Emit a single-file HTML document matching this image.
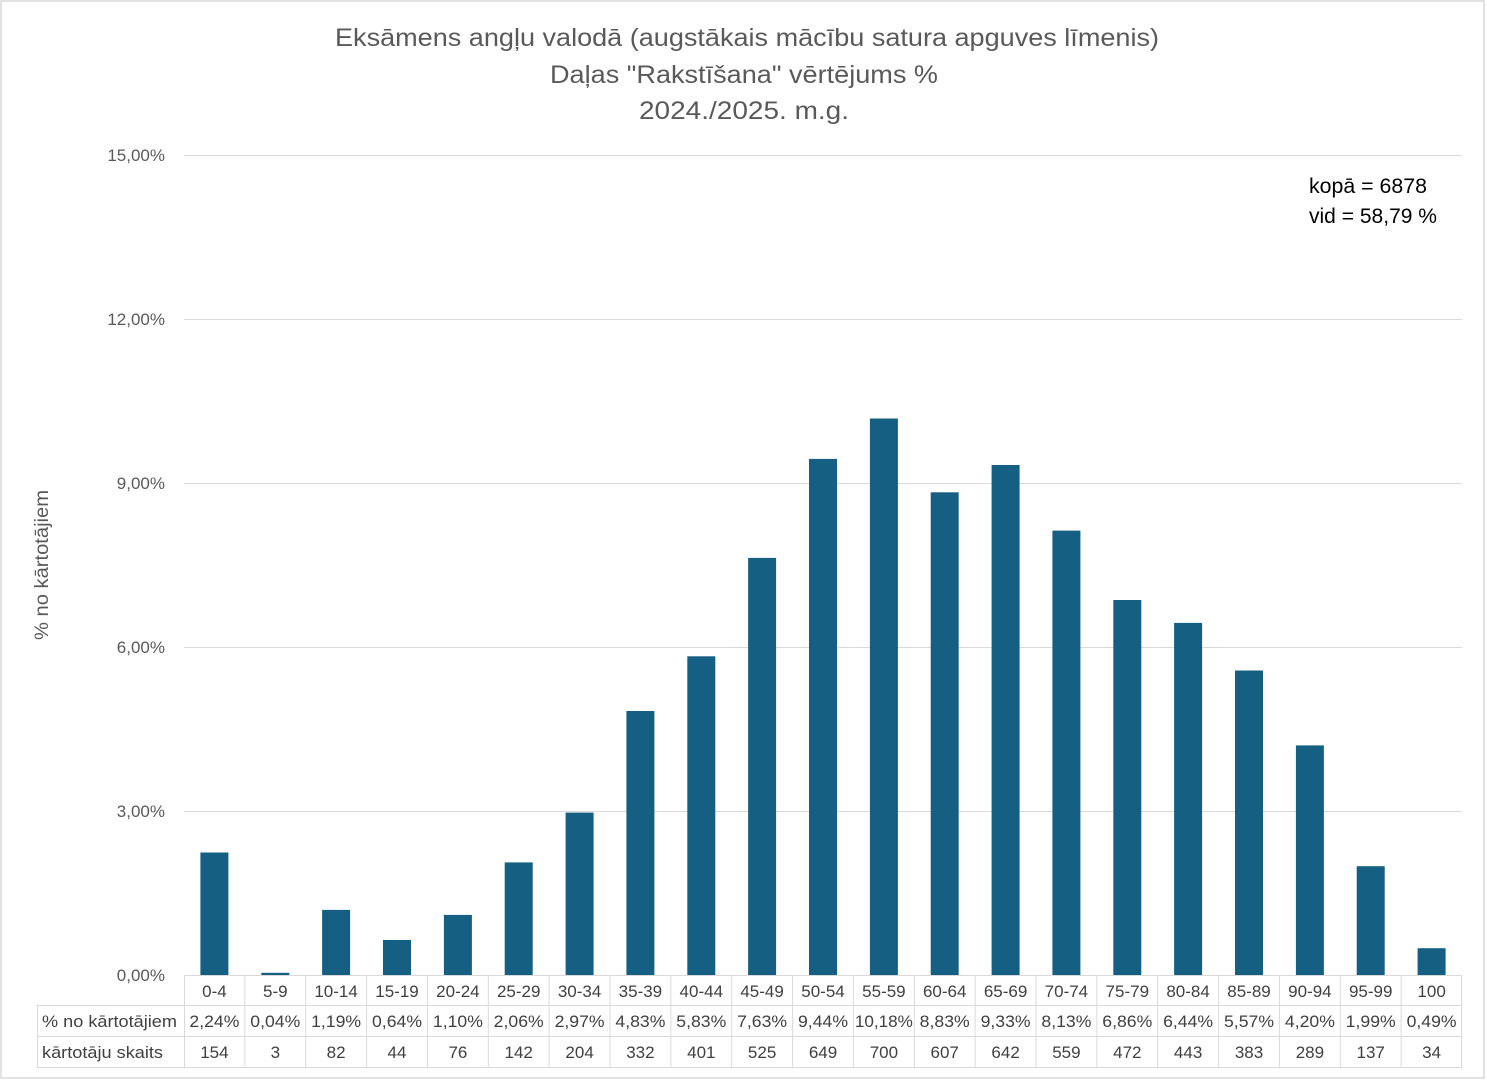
<!DOCTYPE html>
<html><head><meta charset="utf-8"><style>
html,body{margin:0;padding:0;background:#fff}
svg{display:block}
text{font-family:"Liberation Sans",sans-serif}
</style></head><body>
<svg width="1487" height="1080" viewBox="0 0 1487 1080" xmlns="http://www.w3.org/2000/svg">
<rect x="1" y="1" width="1483" height="1077" fill="#fff" stroke="#d9d9d9" stroke-width="1.5"/>
<g fill="#595959" font-size="25" text-anchor="middle">
<text x="747" y="46" textLength="824" lengthAdjust="spacingAndGlyphs">Eksāmens angļu valodā (augstākais mācību satura apguves līmenis)</text>
<text x="744" y="83" textLength="388" lengthAdjust="spacingAndGlyphs">Daļas "Rakstīšana" vērtējums %</text>
<text x="744" y="119" textLength="210" lengthAdjust="spacingAndGlyphs">2024./2025. m.g.</text>
</g>
<g stroke="#d9d9d9" stroke-width="1">
<line x1="184" y1="155.5" x2="1462" y2="155.5"/>
<line x1="184" y1="319.5" x2="1462" y2="319.5"/>
<line x1="184" y1="483.5" x2="1462" y2="483.5"/>
<line x1="184" y1="647.5" x2="1462" y2="647.5"/>
<line x1="184" y1="811.5" x2="1462" y2="811.5"/>
</g>
<g fill="#595959" font-size="17" text-anchor="end">
<text x="165" y="161">15,00%</text>
<text x="165" y="325">12,00%</text>
<text x="165" y="489">9,00%</text>
<text x="165" y="653">6,00%</text>
<text x="165" y="817">3,00%</text>
<text x="165" y="981">0,00%</text>
</g>
<text transform="translate(48,565) rotate(-90)" fill="#595959" font-size="19" text-anchor="middle" textLength="150" lengthAdjust="spacingAndGlyphs">% no kārtotājiem</text>
<g fill="#000" font-size="21">
<text x="1309" y="193" textLength="118" lengthAdjust="spacingAndGlyphs">kopā = 6878</text>
<text x="1309" y="223" textLength="128" lengthAdjust="spacingAndGlyphs">vid = 58,79 %</text>
</g>
<g fill="#156082">
<rect x="200.4" y="852.5" width="28" height="122.5"/>
<rect x="261.3" y="972.8" width="28" height="2.2"/>
<rect x="322.1" y="909.9" width="28" height="65.1"/>
<rect x="383" y="940" width="28" height="35"/>
<rect x="443.9" y="914.9" width="28" height="60.1"/>
<rect x="504.7" y="862.4" width="28" height="112.6"/>
<rect x="565.6" y="812.6" width="28" height="162.4"/>
<rect x="626.4" y="711" width="28" height="264"/>
<rect x="687.3" y="656.3" width="28" height="318.7"/>
<rect x="748.1" y="557.9" width="28" height="417.1"/>
<rect x="809" y="458.9" width="28" height="516.1"/>
<rect x="869.9" y="418.5" width="28" height="556.5"/>
<rect x="930.7" y="492.3" width="28" height="482.7"/>
<rect x="991.6" y="465" width="28" height="510"/>
<rect x="1052.4" y="530.6" width="28" height="444.4"/>
<rect x="1113.3" y="600" width="28" height="375"/>
<rect x="1174.1" y="622.9" width="28" height="352.1"/>
<rect x="1235" y="670.5" width="28" height="304.5"/>
<rect x="1295.9" y="745.4" width="28" height="229.6"/>
<rect x="1356.7" y="866.2" width="28" height="108.8"/>
<rect x="1417.6" y="948.2" width="28" height="26.8"/>
</g>
<g stroke="#d9d9d9" stroke-width="1" fill="none">
<line x1="184" y1="975.5" x2="1462" y2="975.5"/>
<line x1="37" y1="1005.5" x2="1462" y2="1005.5"/>
<line x1="37" y1="1036.5" x2="1462" y2="1036.5"/>
<line x1="37" y1="1067.5" x2="1462" y2="1067.5"/>
<line x1="37.5" y1="1005" x2="37.5" y2="1067"/>
<line x1="184.5" y1="975" x2="184.5" y2="1067"/>
<line x1="244.9" y1="975" x2="244.9" y2="1067"/>
<line x1="305.7" y1="975" x2="305.7" y2="1067"/>
<line x1="366.6" y1="975" x2="366.6" y2="1067"/>
<line x1="427.4" y1="975" x2="427.4" y2="1067"/>
<line x1="488.3" y1="975" x2="488.3" y2="1067"/>
<line x1="549.1" y1="975" x2="549.1" y2="1067"/>
<line x1="610" y1="975" x2="610" y2="1067"/>
<line x1="670.9" y1="975" x2="670.9" y2="1067"/>
<line x1="731.7" y1="975" x2="731.7" y2="1067"/>
<line x1="792.6" y1="975" x2="792.6" y2="1067"/>
<line x1="853.4" y1="975" x2="853.4" y2="1067"/>
<line x1="914.3" y1="975" x2="914.3" y2="1067"/>
<line x1="975.1" y1="975" x2="975.1" y2="1067"/>
<line x1="1036" y1="975" x2="1036" y2="1067"/>
<line x1="1096.9" y1="975" x2="1096.9" y2="1067"/>
<line x1="1157.7" y1="975" x2="1157.7" y2="1067"/>
<line x1="1218.6" y1="975" x2="1218.6" y2="1067"/>
<line x1="1279.4" y1="975" x2="1279.4" y2="1067"/>
<line x1="1340.3" y1="975" x2="1340.3" y2="1067"/>
<line x1="1401.1" y1="975" x2="1401.1" y2="1067"/>
<line x1="1461.5" y1="975" x2="1461.5" y2="1067"/>
</g>
<g fill="#404040" font-size="17">
<text x="42" y="1027" textLength="135" lengthAdjust="spacingAndGlyphs">% no kārtotājiem</text>
<text x="42" y="1058" textLength="121" lengthAdjust="spacingAndGlyphs">kārtotāju skaits</text>
</g>
<g fill="#404040" font-size="17" text-anchor="middle">
<text x="214.4" y="997">0-4</text><text x="275.3" y="997">5-9</text><text x="336.1" y="997">10-14</text><text x="397" y="997">15-19</text><text x="457.9" y="997">20-24</text><text x="518.7" y="997">25-29</text><text x="579.6" y="997">30-34</text><text x="640.4" y="997">35-39</text><text x="701.3" y="997">40-44</text><text x="762.1" y="997">45-49</text><text x="823" y="997">50-54</text><text x="883.9" y="997">55-59</text><text x="944.7" y="997">60-64</text><text x="1005.6" y="997">65-69</text><text x="1066.4" y="997">70-74</text><text x="1127.3" y="997">75-79</text><text x="1188.1" y="997">80-84</text><text x="1249" y="997">85-89</text><text x="1309.9" y="997">90-94</text><text x="1370.7" y="997">95-99</text><text x="1431.6" y="997">100</text>
</g>
<g fill="#404040" font-size="17" text-anchor="middle">
<text x="214.4" y="1027" textLength="50" lengthAdjust="spacingAndGlyphs">2,24%</text><text x="275.3" y="1027" textLength="50" lengthAdjust="spacingAndGlyphs">0,04%</text><text x="336.1" y="1027" textLength="50" lengthAdjust="spacingAndGlyphs">1,19%</text><text x="397" y="1027" textLength="50" lengthAdjust="spacingAndGlyphs">0,64%</text><text x="457.9" y="1027" textLength="50" lengthAdjust="spacingAndGlyphs">1,10%</text><text x="518.7" y="1027" textLength="50" lengthAdjust="spacingAndGlyphs">2,06%</text><text x="579.6" y="1027" textLength="50" lengthAdjust="spacingAndGlyphs">2,97%</text><text x="640.4" y="1027" textLength="50" lengthAdjust="spacingAndGlyphs">4,83%</text><text x="701.3" y="1027" textLength="50" lengthAdjust="spacingAndGlyphs">5,83%</text><text x="762.1" y="1027" textLength="50" lengthAdjust="spacingAndGlyphs">7,63%</text><text x="823" y="1027" textLength="50" lengthAdjust="spacingAndGlyphs">9,44%</text><text x="883.9" y="1027" textLength="58" lengthAdjust="spacingAndGlyphs">10,18%</text><text x="944.7" y="1027" textLength="50" lengthAdjust="spacingAndGlyphs">8,83%</text><text x="1005.6" y="1027" textLength="50" lengthAdjust="spacingAndGlyphs">9,33%</text><text x="1066.4" y="1027" textLength="50" lengthAdjust="spacingAndGlyphs">8,13%</text><text x="1127.3" y="1027" textLength="50" lengthAdjust="spacingAndGlyphs">6,86%</text><text x="1188.1" y="1027" textLength="50" lengthAdjust="spacingAndGlyphs">6,44%</text><text x="1249" y="1027" textLength="50" lengthAdjust="spacingAndGlyphs">5,57%</text><text x="1309.9" y="1027" textLength="50" lengthAdjust="spacingAndGlyphs">4,20%</text><text x="1370.7" y="1027" textLength="50" lengthAdjust="spacingAndGlyphs">1,99%</text><text x="1431.6" y="1027" textLength="50" lengthAdjust="spacingAndGlyphs">0,49%</text>
</g>
<g fill="#404040" font-size="17" text-anchor="middle">
<text x="214.4" y="1058">154</text><text x="275.3" y="1058">3</text><text x="336.1" y="1058">82</text><text x="397" y="1058">44</text><text x="457.9" y="1058">76</text><text x="518.7" y="1058">142</text><text x="579.6" y="1058">204</text><text x="640.4" y="1058">332</text><text x="701.3" y="1058">401</text><text x="762.1" y="1058">525</text><text x="823" y="1058">649</text><text x="883.9" y="1058">700</text><text x="944.7" y="1058">607</text><text x="1005.6" y="1058">642</text><text x="1066.4" y="1058">559</text><text x="1127.3" y="1058">472</text><text x="1188.1" y="1058">443</text><text x="1249" y="1058">383</text><text x="1309.9" y="1058">289</text><text x="1370.7" y="1058">137</text><text x="1431.6" y="1058">34</text>
</g>
</svg>
</body></html>
